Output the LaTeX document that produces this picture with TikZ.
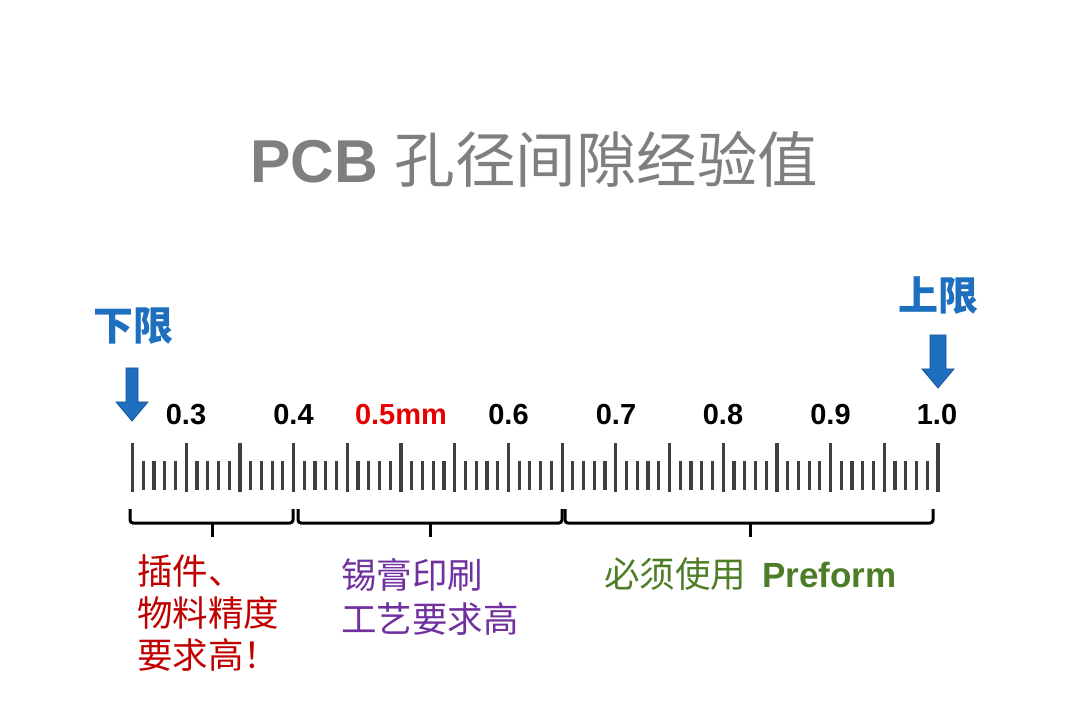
\documentclass[tikz,border=0pt]{standalone}
\usepackage{fontspec}
\setmainfont{Liberation Sans}
\newfontfamily\cjk{Noto Sans CJK SC}
\definecolor{titlegray}{HTML}{7F7F7F}
\definecolor{limblue}{HTML}{1F6FC0}
\definecolor{arrowedge}{HTML}{1A5592}
\definecolor{tickgray}{HTML}{3F3F3F}
\definecolor{redtxt}{HTML}{C00000}
\definecolor{brightred}{HTML}{E60000}
\definecolor{purpletxt}{HTML}{7030A0}
\definecolor{greentxt}{HTML}{4E7D27}
\begin{document}
\begin{tikzpicture}[x=1pt,y=-1pt,
  lbl/.style={inner sep=0pt,anchor=base,font=\fontsize{29}{30}\selectfont\bfseries},
  limtxt/.style={inner sep=0pt,anchor=base west,text=limblue,font=\fontsize{40}{44}\selectfont\cjk\bfseries},
  note/.style={inner sep=0pt,anchor=base west,font=\fontsize{35.5}{42}\selectfont\cjk},
  majortick/.style={draw=tickgray,line width=3.2pt},
  minortick/.style={draw=tickgray,line width=3.2pt},
  bracket/.style={draw=black,line width=3pt,rounded corners=3pt},
  limarrow/.style={fill=limblue,draw=arrowedge,line width=0.8pt}]
\useasboundingbox (0,0) rectangle (1080,703);
\fill[white] (0,0) rectangle (1080,703);

% title
\node[inner sep=0pt,anchor=base west,text=titlegray] (title) at (250,183)
  {\fontsize{60.5}{66}\selectfont\textbf{PCB} \cjk 孔径间隙经验值};

% limit labels
\node[limtxt] (lower) at (93,341) {下限};
\node[limtxt] (upper) at (898,311) {上限};

% arrows
\path[limarrow] (126,368) -- (138,368) -- (138,402) -- (148,402) -- (132,421)
  -- (116,402) -- (126,402) -- cycle;
\path[limarrow] (930,335) -- (946,335) -- (946,369) -- (954,369) -- (938,388)
  -- (922,369) -- (930,369) -- cycle;

% ruler ticks
\foreach \i in {25,...,100}{
  \pgfmathsetmacro\xx{132.5+(\i-25)*10.74}
  \pgfmathtruncatemacro\m{mod(\i,5)}
  \ifnum\m=0
    \draw[majortick] (\xx,443) -- (\xx,492);
  \else
    \draw[minortick] (\xx,461) -- (\xx,490);
  \fi
}

% number labels
\node[lbl] (n3) at (186,425) {0.3};
\node[lbl] (n4) at (293.5,425) {0.4};
\node[lbl,text=brightred] (n5) at (401,425) {0.5mm};
\node[lbl] (n6) at (508.5,425) {0.6};
\node[lbl] (n7) at (616,425) {0.7};
\node[lbl] (n8) at (723,425) {0.8};
\node[lbl] (n9) at (830.5,425) {0.9};
\node[lbl] (n10) at (937,425) {1.0};

% brackets
\draw[bracket] (130,509) -- (130,523) -- (293,523) -- (293,509);
\draw[draw=black,line width=3pt] (212,523) -- (212,537);
\draw[bracket] (298,509) -- (298,523) -- (562,523) -- (562,509);
\draw[draw=black,line width=3pt] (430,523) -- (430,537);
\draw[bracket] (565,509) -- (565,523) -- (933,523) -- (933,509);
\draw[draw=black,line width=3pt] (750,523) -- (750,537);

% notes
\node[note,text=redtxt] (r1) at (137,584) {插件、};
\node[note,text=redtxt] (r2) at (137,626) {物料精度};
\node[note,text=redtxt] (r3) at (137,668) {要求高！};
\node[note,text=purpletxt] (p1) at (341,588) {锡膏印刷};
\node[note,text=purpletxt] (p2) at (341,632) {工艺要求高};
\node[note,text=greentxt] (g1) at (604,587) {必须使用\hspace{16pt}{\fontspec{Liberation Sans}\bfseries\fontsize{35}{42}\selectfont Preform}};
\end{tikzpicture}
\end{document}
